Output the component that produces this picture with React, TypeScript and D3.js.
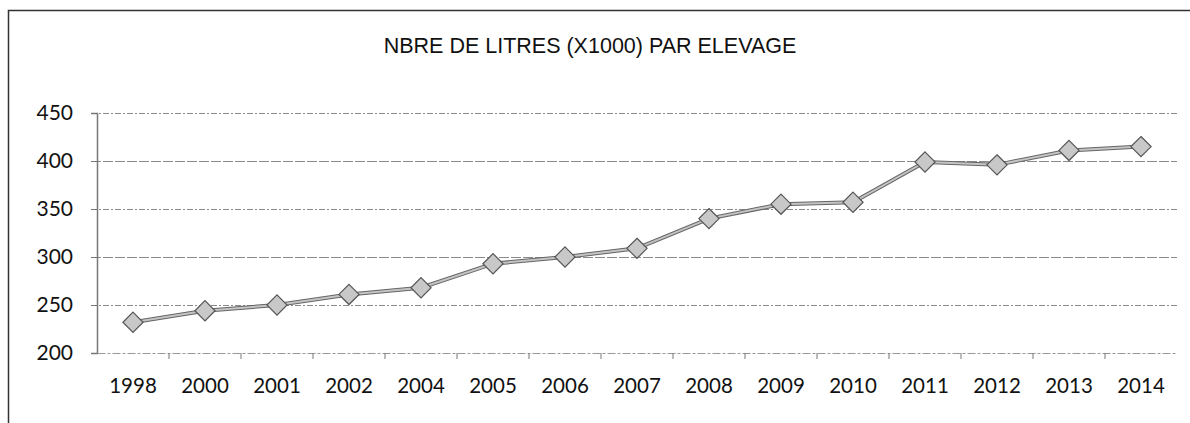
import { useEffect, useRef } from "react";
import * as d3 from "d3";

const years = ["1998", "2000", "2001", "2002", "2004", "2005", "2006", "2007", "2008", "2009", "2010", "2011", "2012", "2013", "2014"];
const litres = [232, 244, 250, 261, 268, 293, 300, 309, 340, 355, 357, 399, 396, 411, 415];
const yTicks = [200, 250, 300, 350, 400, 450];
const title = "NBRE DE LITRES (X1000) PAR ELEVAGE";

export default function App() {
  const ref = useRef<SVGSVGElement | null>(null);

  useEffect(() => {
    document.body.style.margin = "0";
    const svgEl = ref.current;
    if (!svgEl) return;
    const width = 1190;
    const height = 423;
    const plot = { left: 97, right: 1177, top: 113, bottom: 353 };

    const svg = d3.select(svgEl);
    svg.selectAll("*").remove();
    svg.attr("width", width).attr("height", height);
    svg.append("rect").attr("width", width).attr("height", height).attr("fill", "#fff");

    // outer frame (left + top only visible in the scan)
    svg.append("path")
      .attr("d", `M8.5,${height} V10.5 H${width}`)
      .attr("fill", "none")
      .attr("stroke", "#333")
      .attr("stroke-width", 1.5);

    const x = d3.scaleBand<string>().domain(years).range([plot.left, plot.right]);
    const y = d3.scaleLinear().domain([200, 450]).range([plot.bottom, plot.top]);

    svg.append("text")
      .attr("x", 590)
      .attr("y", 53)
      .attr("text-anchor", "middle")
      .attr("font-family", "Liberation Sans, Arial, sans-serif")
      .attr("font-size", 21.5)
      .attr("fill", "#111")
      .text(title);

    // gridlines
    svg.append("g")
      .selectAll("line")
      .data(yTicks.filter((t) => t > 200))
      .enter()
      .append("line")
      .attr("x1", plot.left - 6)
      .attr("x2", plot.right)
      .attr("y1", (d) => y(d) + 0.5)
      .attr("y2", (d) => y(d) + 0.5)
      .attr("stroke", "#8a8a8a")
      .attr("stroke-width", 1.2)
      .attr("stroke-dasharray", (d, i) => (i % 2 === 0 ? "6,2,2,2" : "10,2"));

    // y axis
    const yAxis = svg.append("g")
      .attr("transform", `translate(${plot.left},0)`)
      .call(d3.axisLeft(y).tickValues(yTicks).tickSize(6).tickPadding(18));
    yAxis.select(".domain").attr("stroke", "#777").attr("stroke-width", 1.5);
    yAxis.selectAll("line").attr("stroke", "#777");
    yAxis.selectAll("text")
      .attr("font-family", "Lato, Open Sans, sans-serif")
      .attr("font-size", 21)
      .attr("fill", "#111");

    // x axis
    const xAxis = svg.append("g")
      .attr("transform", `translate(0,${plot.bottom})`)
      .call(d3.axisBottom(x).tickSize(0).tickPadding(25));
    xAxis.select(".domain").attr("stroke", "#999").attr("stroke-width", 1.2).attr("stroke-dasharray", "8,2,3,2");
    xAxis.selectAll("text")
      .attr("font-family", "Lato, Open Sans, sans-serif")
      .attr("font-size", 20.5)
      .attr("fill", "#111");

    // category boundary ticks
    svg.append("g")
      .selectAll("line")
      .data(years.slice(1))
      .enter()
      .append("line")
      .attr("x1", (d) => x(d)!)
      .attr("x2", (d) => x(d)!)
      .attr("y1", plot.bottom)
      .attr("y2", plot.bottom + 6)
      .attr("stroke", "#777");

    const cx = (i: number) => x(years[i])! + x.bandwidth() / 2;
    const line = d3.line<number>().x((_, i) => cx(i)).y((d) => y(d));

    svg.append("path")
      .datum(litres)
      .attr("d", line)
      .attr("fill", "none")
      .attr("stroke", "#666")
      .attr("stroke-width", 4);
    svg.append("path")
      .datum(litres)
      .attr("d", line)
      .attr("fill", "none")
      .attr("stroke", "#c4c4c4")
      .attr("stroke-width", 2);

    const diamond = d3.symbol().type(d3.symbolDiamond2).size(260);
    svg.append("g")
      .selectAll("path")
      .data(litres)
      .enter()
      .append("path")
      .attr("transform", (d, i) => `translate(${cx(i)},${y(d)})`)
      .attr("d", diamond)
      .attr("fill", "#c8c8c8")
      .attr("stroke", "#555")
      .attr("stroke-width", 1.2);
  }, []);

  return <svg ref={ref} style={{ display: "block" }} />;
}
